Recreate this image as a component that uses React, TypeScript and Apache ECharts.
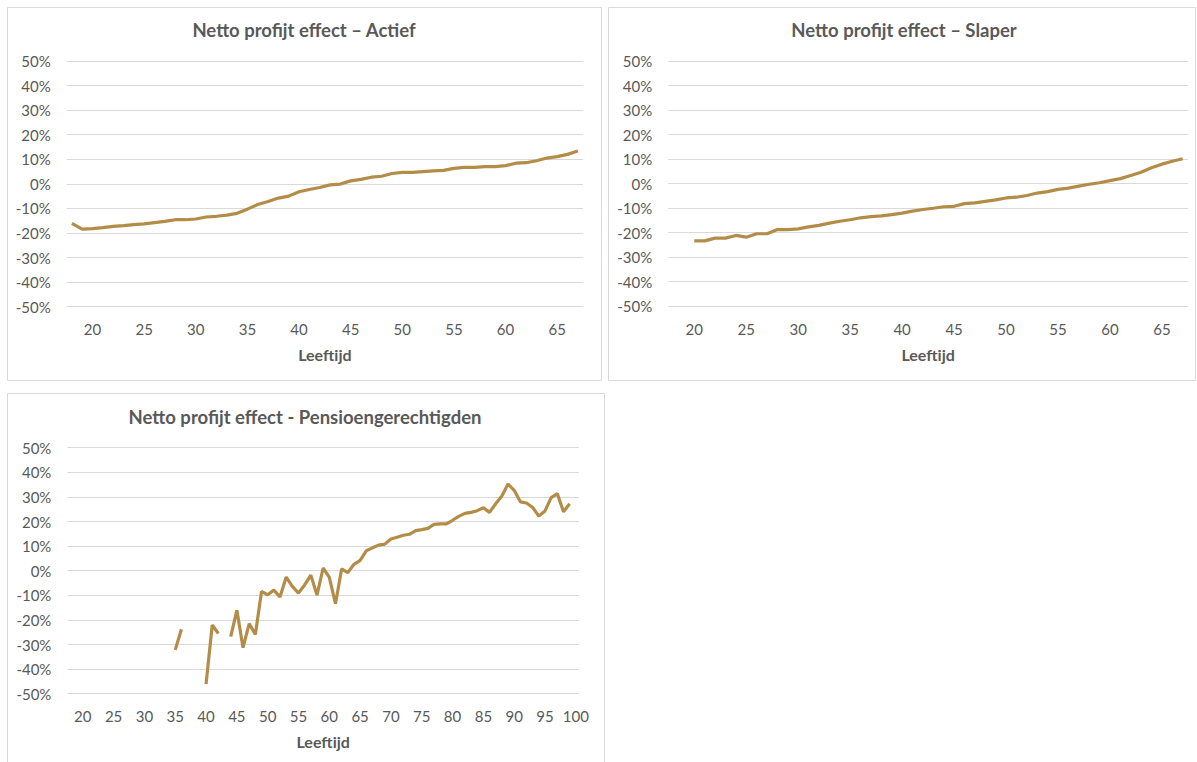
import React, { useEffect, useRef } from "react";
import * as echarts from "echarts";

// Ages (categories)
const agesWorking = [
  18, 19, 20, 21, 22, 23, 24, 25, 26, 27, 28, 29, 30, 31, 32, 33, 34, 35, 36, 37, 38, 39, 40, 41, 42,
  43, 44, 45, 46, 47, 48, 49, 50, 51, 52, 53, 54, 55, 56, 57, 58, 59, 60, 61, 62, 63, 64, 65, 66, 67,
];
const agesRetired = [
  18, 19, 20, 21, 22, 23, 24, 25, 26, 27, 28, 29, 30, 31, 32, 33, 34, 35, 36, 37, 38, 39, 40, 41, 42,
  43, 44, 45, 46, 47, 48, 49, 50, 51, 52, 53, 54, 55, 56, 57, 58, 59, 60, 61, 62, 63, 64, 65, 66, 67,
  68, 69, 70, 71, 72, 73, 74, 75, 76, 77, 78, 79, 80, 81, 82, 83, 84, 85, 86, 87, 88, 89, 90, 91, 92,
  93, 94, 95, 96, 97, 98, 99, 100,
];

// Netto profijt effect (%) – Actief, ages 18..67
const actief = [
  -16.1, -18.4, -18.2, -17.8, -17.3, -17.0, -16.6, -16.3, -15.8, -15.3, -14.6, -14.6, -14.3, -13.5,
  -13.2, -12.7, -12.0, -10.3, -8.4, -7.2, -5.8, -5.0, -3.2, -2.3, -1.5, -0.4, -0.1, 1.2, 1.8, 2.7,
  3.1, 4.2, 4.7, 4.7, 5.0, 5.3, 5.5, 6.3, 6.7, 6.7, 7.0, 7.0, 7.4, 8.4, 8.6, 9.4, 10.5, 11.1, 12.0,
  13.4,
];

// Netto profijt effect (%) – Slaper, ages 18..67 (no values for 18, 19)
const slaper = [
  null, null, -23.4, -23.4, -22.3, -22.3, -21.2, -21.9, -20.5, -20.5, -18.8, -18.8, -18.5, -17.7,
  -17.1, -16.2, -15.4, -14.8, -14.0, -13.5, -13.2, -12.7, -12.1, -11.3, -10.6, -10.1, -9.5, -9.3,
  -8.2, -7.9, -7.3, -6.7, -5.9, -5.6, -4.9, -3.9, -3.3, -2.4, -1.9, -1.1, -0.3, 0.3, 1.2, 2.0, 3.3,
  4.6, 6.4, 7.9, 9.1, 10.1,
];

// Netto profijt effect (%) – Pensioengerechtigden, ages 18..100 (gaps where no data)
const pensioen = [
  null, null, null, null, null, null, null, null, null, null, null, null, null, null, null, null, null,
  -32.2, -23.8, null, null, null, -46.1, -22.1, -25.5, null, -26.8, -16.1, -31.3, -21.5, -25.9, -8.4,
  -9.8, -7.9, -10.7, -2.6, -6.4, -9.1, -5.8, -1.8, -9.9, 1.1, -2.7, -13.4, 0.7, -0.8, 2.6, 4.2, 8.1,
  9.3, 10.4, 10.8, 12.9, 13.6, 14.4, 14.8, 16.3, 16.7, 17.2, 18.8, 19.0, 19.0, 20.5, 22.1, 23.3, 23.7,
  24.4, 25.6, 23.7, 27.2, 30.4, 35.2, 32.7, 28.0, 27.5, 25.7, 22.2, 24.3, 29.7, 31.3, 24.0, 27.2, null,
];

const titles = [
  "Netto profijt effect – Actief",
  "Netto profijt effect – Slaper",
  "Netto profijt effect - Pensioengerechtigden",
];
const axisName = "Leeftijd";
const yMin = -50;
const yMax = 50;
const yStep = 10;

const GOLD = "#B38D48";
const TEXT = "#595959";
const GRIDC = "#D9D9D9";
const FONT = "Lato, 'Open Sans', sans-serif";

export default function App() {
  const ref = useRef<HTMLDivElement>(null);

  useEffect(() => {
    if (!ref.current) return;
    const chart = echarts.init(ref.current, null, { renderer: "svg" });

    const grids = [
      { left: 66.7, top: 61, width: 516.3, height: 245.7 },
      { left: 668.3, top: 61, width: 519.6, height: 245 },
      { left: 67.4, top: 447.7, width: 511.5, height: 246 },
    ];
    const cats = [agesWorking, agesWorking, agesRetired];
    const datas = [actief, slaper, pensioen];

    const xAxes = grids.map((_, i) => ({
      type: "category",
      gridIndex: i,
      data: cats[i].map(String),
      boundaryGap: true,
      axisLine: { show: false },
      axisTick: { show: false },
      axisLabel: {
        interval: (_idx: number, val: string) => Number(val) % 5 === 0,
        color: TEXT,
        fontSize: 15,
        fontFamily: FONT,
        margin: 15,
      },
      splitLine: { show: false },
      name: axisName,
      nameLocation: "middle",
      nameGap: 40,
      nameTextStyle: { color: TEXT, fontSize: 16, fontWeight: "bold", fontFamily: FONT },
    }));

    const yAxes = grids.map((_, i) => ({
      type: "value",
      gridIndex: i,
      min: yMin,
      max: yMax,
      interval: yStep,
      axisLine: { show: false },
      axisTick: { show: false },
      axisLabel: {
        formatter: (v: number) => `${v}%`,
        color: TEXT,
        fontSize: 15,
        fontFamily: FONT,
        margin: 16,
      },
      splitLine: { show: true, lineStyle: { color: GRIDC, width: 1 } },
    }));

    const series = datas.map((d, i) => ({
      type: "line",
      xAxisIndex: i,
      yAxisIndex: i,
      data: d,
      showSymbol: false,
      symbol: "none",
      connectNulls: false,
      lineStyle: { color: GOLD, width: 3.2 },
      itemStyle: { color: GOLD },
    }));

    const panels = [
      { x: 7.5, y: 7.5, w: 594, h: 373, tx: 304, ty: 30 },
      { x: 608.5, y: 7.5, w: 587, h: 373, tx: 904, ty: 30 },
      { x: 7.5, y: 393.5, w: 597, h: 380, tx: 305, ty: 417 },
    ];

    const graphic: any[] = [];
    panels.forEach((p, i) => {
      graphic.push({
        type: "rect",
        shape: { x: p.x, y: p.y, width: p.w, height: p.h },
        style: { fill: "none", stroke: GRIDC, lineWidth: 1 },
        silent: true,
        z: -1,
      });
      graphic.push({
        type: "text",
        x: p.tx,
        y: p.ty,
        style: {
          text: titles[i],
          fill: TEXT,
          fontSize: 18.5,
          fontWeight: "bold",
          fontFamily: FONT,
          align: "center",
          verticalAlign: "middle",
        },
        silent: true,
      });
    });

    chart.setOption({
      animation: false,
      backgroundColor: "#ffffff",
      grid: grids.map((g) => ({ ...g, containLabel: false })),
      xAxis: xAxes,
      yAxis: yAxes,
      series,
      graphic,
    });

    return () => chart.dispose();
  }, []);

  return (
    <div
      ref={ref}
      style={{ position: "fixed", left: 0, top: 0, width: 1197, height: 762, background: "#fff" }}
    />
  );
}
